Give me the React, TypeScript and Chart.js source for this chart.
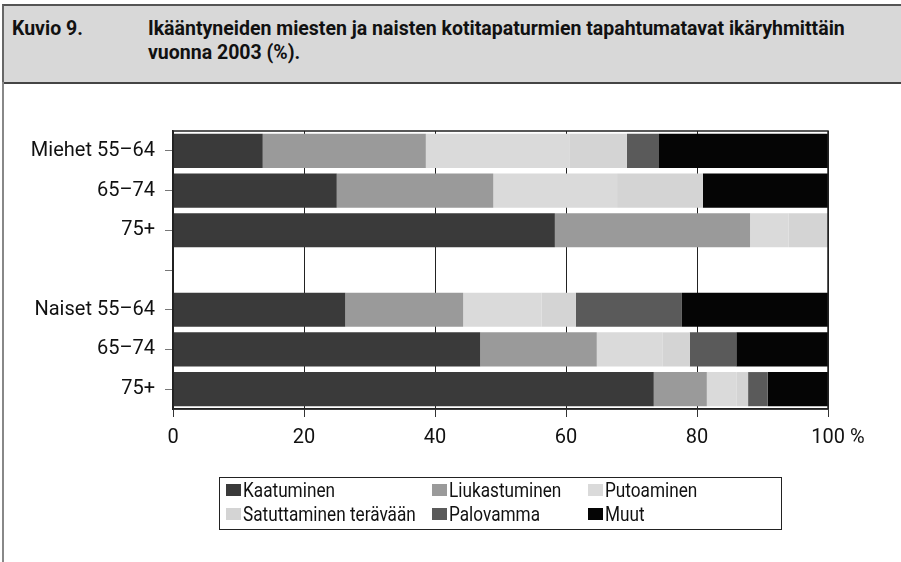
import React, { useEffect, useRef } from "react";
import { Chart, registerables } from "chart.js";

Chart.register(...registerables);

const categories = ["Miehet 55–64", "65–74", "75+", "", "Naiset 55–64", "65–74", "75+"];
const kaatuminen = [13.7, 25.0, 58.3, null, 26.3, 46.9, 73.4];
const liukastuminen = [24.9, 23.9, 29.8, null, 18.0, 17.8, 8.1];
const putoaminen = [22.0, 18.9, 5.9, null, 12.0, 10.0, 4.5];
const satuttaminen = [8.7, 13.1, 6.0, null, 5.2, 4.2, 1.8];
const palovamma = [4.9, 0, 0, null, 16.2, 7.1, 3.0];
const muut = [25.8, 19.1, 0, null, 22.3, 14.0, 9.2];
const xTicks = [0, 20, 40, 60, 80, 100];

const seriesNames = ["Kaatuminen", "Liukastuminen", "Putoaminen", "Satuttaminen terävään", "Palovamma", "Muut"];
const seriesColors = ["#3a3a3a", "#9a9a9a", "#dadada", "#d4d4d4", "#5a5a5a", "#050505"];
const seriesData = [kaatuminen, liukastuminen, putoaminen, satuttaminen, palovamma, muut];

const legendOrder = [0, 1, 2, 3, 4, 5];

const framePlugin = {
  id: "frame",
  afterDatasetsDraw(chart: any) {
    const { ctx, chartArea } = chart;
    ctx.save();
    ctx.strokeStyle = "#222";
    ctx.lineWidth = 1.5;
    ctx.strokeRect(chartArea.left, chartArea.top, chartArea.right - chartArea.left, chartArea.bottom - chartArea.top);
    ctx.restore();
  },
};

export default function App() {
  const ref = useRef<HTMLCanvasElement | null>(null);

  useEffect(() => {
    if (!ref.current) return;
    const chart = new Chart(ref.current, {
      type: "bar",
      data: {
        labels: categories,
        datasets: seriesNames.map((name, i) => ({
          label: name,
          data: seriesData[i],
          backgroundColor: seriesColors[i],
          borderWidth: 0,
          categoryPercentage: 1,
          barPercentage: 0.86,
        })),
      },
      options: {
        indexAxis: "y",
        responsive: false,
        animation: false,
        layout: { padding: { top: 31, right: 73, bottom: 21, left: 0 } },
        plugins: {
          legend: { display: false },
          tooltip: { enabled: false },
          title: { display: false },
        },
        scales: {
          x: {
            stacked: true,
            min: 0,
            max: 100,
            afterBuildTicks(scale: any) {
              scale.ticks = xTicks.map((v) => ({ value: v }));
            },
            afterFit(scale: any) {
              scale.height = 50;
            },
            ticks: {
              padding: 9,
              color: "#111",
              font: { family: "Roboto", size: 20 },
              callback: (v: any) => (v === 100 ? "    100 %" : String(v)),
            },
            grid: {
              color: "#222",
              lineWidth: 1,
              drawOnChartArea: true,
              drawTicks: true,
              tickLength: 8,
              tickColor: "#333",
            },
            border: { display: true, color: "#222", width: 1.5 },
          },
          y: {
            stacked: true,
            afterFit(scale: any) {
              scale.width = 173;
            },
            ticks: {
              padding: 10,
              color: "#111",
              font: { family: "Roboto", size: 20 },
              autoSkip: false,
            },
            grid: {
              offset: false,
              drawOnChartArea: false,
              drawTicks: true,
              tickLength: 8,
              tickColor: "#777",
            },
            border: { display: true, color: "#222", width: 1.5 },
          },
        },
      },
      plugins: [framePlugin],
    } as any);
    return () => chart.destroy();
  }, []);

  const titleStyle: any = {
    position: "absolute",
    top: 17,
    fontWeight: 700,
    fontSize: 19.5,
    lineHeight: "24px",
    color: "#111",
    whiteSpace: "nowrap",
  };

  return (
    <div
      style={{
        position: "absolute",
        left: 0,
        top: 0,
        width: 901,
        height: 562,
        background: "#fff",
        overflow: "hidden",
        fontFamily: "Roboto, sans-serif",
      }}
    >
      <div
        style={{
          position: "absolute",
          left: 2,
          top: 4,
          width: 905,
          height: 76,
          background: "#d8d8d8",
          borderTop: "2px solid #555",
          borderBottom: "2px solid #444",
          borderLeft: "2px solid #666",
        }}
      />
      <div
        style={{
          position: "absolute",
          left: 2,
          top: 82,
          width: 2,
          height: 480,
          background: "#888",
        }}
      />
      <div style={{ ...titleStyle, left: 12 }}>Kuvio 9.</div>
      <div style={{ ...titleStyle, left: 148 }}>
        Ikääntyneiden miesten ja naisten kotitapaturmien tapahtumatavat ikäryhmittäin
        <br />
        vuonna 2003 (%).
      </div>
      <div style={{ position: "absolute", left: 0, top: 100, width: 901, height: 380 }}>
        <canvas ref={ref} width={901} height={380} style={{ display: "block" }} />
      </div>
      <div
        style={{
          position: "absolute",
          left: 219,
          top: 477,
          width: 563,
          height: 53,
          border: "1.5px solid #222",
          boxSizing: "border-box",
          display: "grid",
          gridTemplateColumns: "206px 156px 1fr",
          gridTemplateRows: "24px 24px",
          paddingLeft: 6,
          paddingTop: 0,
          fontSize: 20,
          color: "#111",
        }}
      >
        {legendOrder.map((i) => (
          <div key={i} style={{ display: "flex", alignItems: "center", whiteSpace: "nowrap", lineHeight: "24px" }}>
            <span
              style={{
                display: "inline-block",
                flex: "none",
                width: 15,
                height: 12,
                background: seriesColors[i],
                marginRight: 2,
              }}
            />
            <span style={{ display: "inline-block", transform: "scaleX(0.86)", transformOrigin: "left center" }}>
              {seriesNames[i]}
            </span>
          </div>
        ))}
      </div>
    </div>
  );
}
